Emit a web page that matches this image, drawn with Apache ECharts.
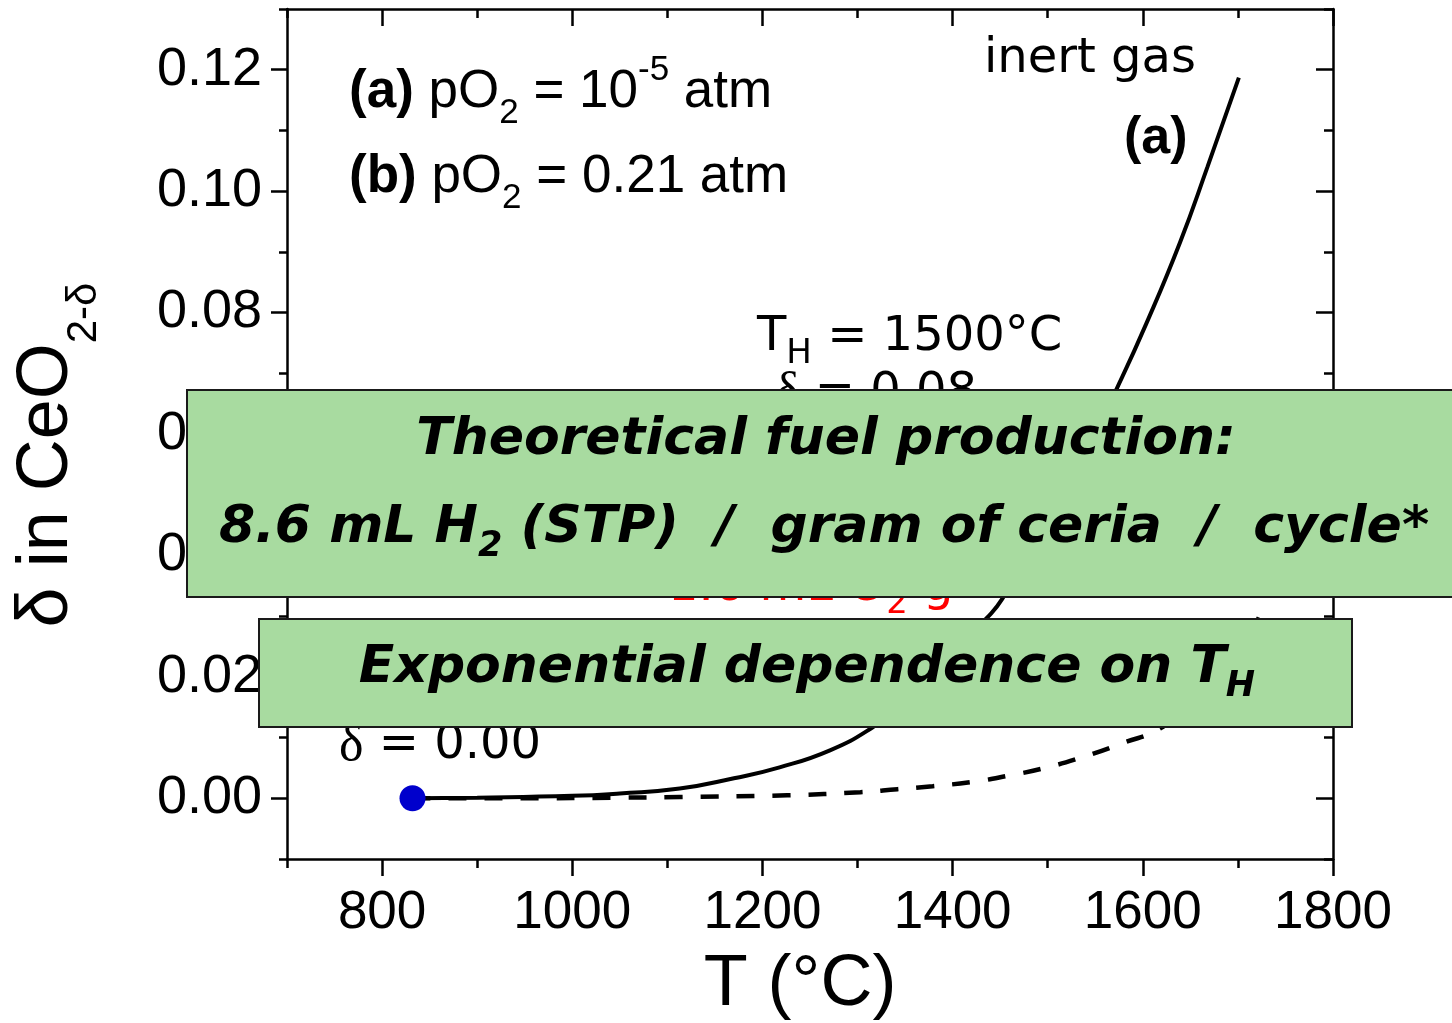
<!DOCTYPE html>
<html>
<head>
<meta charset="utf-8">
<script src="https://cdn.jsdelivr.net/npm/echarts@6/dist/echarts.min.js"></script>
<style>
  html, body { margin: 0; padding: 0; background: #ffffff; }
  #chart { width: 1452px; height: 1023px; }
</style>
</head>
<body>
<div id="chart"></div>
<script>
// Nonstoichiometry of ceria vs temperature
// (a) pO2 = 1e-5 atm (inert gas, solid), (b) pO2 = 0.21 atm (air, dashed)
const curveA_T = [832, 900, 1000, 1050, 1113, 1170, 1218, 1271, 1316, 1350, 1400, 1436, 1452, 1500, 1550, 1573, 1604, 1639, 1668, 1701];
const curveA_delta = [0, 0.0001, 0.0004, 0.0008, 0.0016, 0.0033, 0.0051, 0.0079, 0.0117, 0.0157, 0.0239, 0.0297, 0.0328, 0.0455, 0.0603, 0.0676, 0.0783, 0.0915, 0.1040, 0.1187];

const curveB_T = [832, 950, 1050, 1113, 1226, 1303, 1342, 1379, 1421, 1458, 1497, 1537, 1579, 1618, 1660, 1700, 1722];
const curveB_delta = [0, 0.0000, 0.0001, 0.0002, 0.0005, 0.0010, 0.0015, 0.0020, 0.0027, 0.0037, 0.0050, 0.0068, 0.0091, 0.0115, 0.0165, 0.0240, 0.0298];

// starting state of the cycle
const startT = [832];
const startDelta = [0];

const xTickLabels = [800, 1000, 1200, 1400, 1600, 1800];
const yTickLabels = [0, 0.02, 0.04, 0.06, 0.08, 0.10, 0.12];

const SANS = 'Liberation Sans, Arial, sans-serif';
const VERD = 'DejaVu Sans, Verdana, sans-serif';
const SERIF = 'Liberation Serif, Times New Roman, serif';
const BOX_FILL = '#a8dba0';

function zip(a, b) { return a.map((v, i) => [v, b[i]]); }

function xAxisDef(position, inside, len, custom, withLine, withLabel) {
  return {
    type: 'value', position: position, min: 700, max: 1800, interval: 100,
    axisLine: { show: withLine, onZero: false, lineStyle: { color: '#000', width: 2.5 } },
    axisTick: Object.assign({ show: true, inside: inside, length: len, lineStyle: { color: '#000', width: 2.5 } },
      custom ? { customValues: xTickLabels } : {}),
    axisLabel: withLabel ? {
      show: true, customValues: xTickLabels, fontSize: 53, fontFamily: SANS, color: '#000', margin: 28,
      formatter: v => String(Math.round(v))
    } : { show: false },
    splitLine: { show: false }
  };
}

function yAxisDef(position, inside, len, custom, withLine, withLabel) {
  return {
    type: 'value', position: position, min: -0.01, max: 0.13, interval: 0.01,
    axisLine: { show: withLine, onZero: false, lineStyle: { color: '#000', width: 2.5 } },
    axisTick: Object.assign({ show: true, inside: inside, length: len, lineStyle: { color: '#000', width: 2.5 } },
      custom ? { customValues: yTickLabels } : {}),
    axisLabel: withLabel ? {
      show: true, customValues: yTickLabels, fontSize: 54, fontFamily: SANS, color: '#000', margin: 25,
      formatter: v => v.toFixed(2)
    } : { show: false },
    splitLine: { show: false }
  };
}

function richLine(x, y, text, rich, align, z, fill) {
  return {
    type: 'text', x: x, y: y, z: z || 10,
    style: {
      text: text, rich: rich, fill: fill || '#000',
      align: align || 'left', verticalAlign: 'middle',
      textAlign: align || 'left', textVerticalAlign: 'middle'
    }
  };
}

const chart = echarts.init(document.getElementById('chart'), null, { renderer: 'canvas' });

const noteRich = {
  b: { fontSize: 53, fontWeight: 'bold', fontFamily: SANS, lineHeight: 78 },
  r: { fontSize: 53, fontFamily: SANS, lineHeight: 78 },
  sub: { fontSize: 35, fontFamily: SANS, lineHeight: 35, verticalAlign: 'bottom' },
  sup: { fontSize: 35, fontFamily: SANS, lineHeight: 35, verticalAlign: 'top' }
};
const verdRich = {
  d: { fontSize: 52, fontFamily: SERIF, lineHeight: 66 },
  r: { fontSize: 48, fontFamily: VERD, lineHeight: 66 },
  sub: { fontSize: 34, fontFamily: VERD, lineHeight: 34, verticalAlign: 'bottom' },
  sup: { fontSize: 34, fontFamily: VERD, lineHeight: 34, verticalAlign: 'top' }
};
const redRich = {
  r: { fontSize: 48, fontFamily: VERD, lineHeight: 66, color: '#ff0000' },
  sub: { fontSize: 34, fontFamily: VERD, lineHeight: 34, verticalAlign: 'bottom', color: '#ff0000' },
  sup: { fontSize: 34, fontFamily: VERD, lineHeight: 34, verticalAlign: 'top', color: '#ff0000' }
};
const boxRich = {
  r: { fontSize: 52, fontFamily: VERD, fontWeight: 'bold', fontStyle: 'italic', lineHeight: 72 },
  sub: { fontSize: 35, fontFamily: VERD, fontWeight: 'bold', fontStyle: 'italic', lineHeight: 35, verticalAlign: 'bottom' }
};

const option = {
  backgroundColor: '#ffffff',
  animation: false,
  grid: { left: 287, top: 9, width: 1046, height: 850, containLabel: false, outerBoundsMode: 'none' },
  xAxis: [
    xAxisDef('bottom', false, 9, false, true, true),
    xAxisDef('bottom', false, 17, true, false, false),
    xAxisDef('top', true, 9, false, true, false),
    xAxisDef('top', true, 17, true, false, false)
  ],
  yAxis: [
    yAxisDef('left', false, 8, false, true, true),
    yAxisDef('left', false, 16, true, false, false),
    yAxisDef('right', true, 9, false, true, false),
    yAxisDef('right', true, 17, true, false, false)
  ],
  series: [
    {
      name: '(a) inert gas', type: 'line', xAxisIndex: 0, yAxisIndex: 0,
      data: zip(curveA_T, curveA_delta), showSymbol: false, smooth: 0.5,
      lineStyle: { color: '#000', width: 4 }, z: 3
    },
    {
      name: '(b) air', type: 'line', xAxisIndex: 0, yAxisIndex: 0,
      data: zip(curveB_T, curveB_delta), showSymbol: false, smooth: 0.5,
      lineStyle: { color: '#000', width: 4.5, type: [18, 18] }, z: 2
    },
    {
      name: 'start', type: 'scatter', xAxisIndex: 0, yAxisIndex: 0,
      data: zip(startT, startDelta), symbol: 'circle', symbolSize: 26,
      itemStyle: { color: '#0000cc', opacity: 1 }, z: 5
    }
  ],
  graphic: [
    // notes at top left
    richLine(349, 92, '{b|(a)}{r| pO}{sub|2}{r| = 10}{sup|-5}{r| atm}', noteRich),
    richLine(349, 177, '{b|(b)}{r| pO}{sub|2}{r| = 0.21 atm}', noteRich),
    // curve labels
    {
      type: 'text', x: 984, y: 60, z: 10,
      style: { text: 'inert gas', font: '48px ' + VERD, fill: '#000', align: 'left', verticalAlign: 'middle', textAlign: 'left', textVerticalAlign: 'middle' }
    },
    {
      type: 'text', x: 1124, y: 139, z: 10,
      style: { text: '(a)', font: 'bold 52px ' + SANS, fill: '#000', align: 'left', verticalAlign: 'middle', textAlign: 'left', textVerticalAlign: 'middle' }
    },
    richLine(757, 338, '{r|T}{sub|H}{r| = 1500°C}', verdRich),
    richLine(775, 394, '{d|δ}{r| = 0.08}', verdRich),
    richLine(668, 588, '{r|1.6 mL O}{sub|2}{r| g}{sup|-1}', redRich, 'left', 10, '#ff0000'),
    richLine(339, 746, '{d|δ}{r| = 0.00}', verdRich),
    // axis titles
    {
      type: 'text', x: 800, y: 985, z: 10,
      style: { text: 'T (°C)', font: '72px ' + SANS, fill: '#000', align: 'center', verticalAlign: 'middle', textAlign: 'center', textVerticalAlign: 'middle' }
    },
    {
      type: 'text', x: 47, y: 455, z: 10, rotation: Math.PI / 2,
      style: {
        text: '{r|δ in CeO}{sub|2-δ}',
        align: 'center', verticalAlign: 'middle', textAlign: 'center', textVerticalAlign: 'middle',
        fill: '#000',
        rich: {
          r: { fontSize: 72, fontFamily: SANS, lineHeight: 116 },
          sub: { fontSize: 42, fontFamily: SANS, lineHeight: 42, verticalAlign: 'bottom' }
        }
      }
    },
    // highlight boxes
    {
      type: 'rect', z: 100,
      shape: { x: 187, y: 390, width: 1275, height: 207 },
      style: { fill: BOX_FILL, stroke: '#1a1a1a', lineWidth: 2 }
    },
    richLine(826, 440, '{r|Theoretical fuel production:}', boxRich, 'center', 101),
    richLine(824, 528, '{r|8.6 mL H}{sub|2}{r| (STP)  /  gram of ceria  /  cycle*}', boxRich, 'center', 101),
    {
      type: 'rect', z: 100,
      shape: { x: 259, y: 619, width: 1093, height: 108 },
      style: { fill: BOX_FILL, stroke: '#1a1a1a', lineWidth: 2 }
    },
    richLine(807, 668, '{r|Exponential dependence on T}{sub|H}', boxRich, 'center', 101)
  ]
};

chart.setOption(option);
</script>
</body>
</html>
